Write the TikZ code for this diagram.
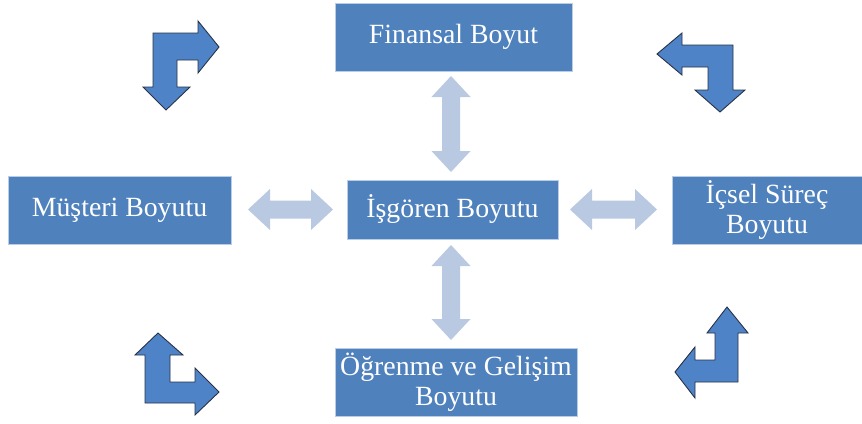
\documentclass[tikz,border=0pt]{standalone}
\usepackage{fontspec}
\setmainfont{Liberation Serif}
\definecolor{boxblue}{RGB}{79,129,189}
\definecolor{boxedge}{RGB}{185,205,232}
\definecolor{lightarr}{RGB}{185,201,226}
\definecolor{bentfill}{RGB}{79,131,200}
\definecolor{bentedge}{RGB}{40,50,70}
\begin{document}
\begin{tikzpicture}[x=1pt,y=-1pt,
  dim/.style={draw=boxedge,line width=0.8pt,fill=boxblue,text=white,
    font=\fontsize{27.8}{30}\selectfont,align=center,inner sep=0pt},
  dbl/.style={fill=lightarr,draw=none},
  bent/.style={fill=bentfill,draw=bentedge,line width=0.9pt,line join=miter}]
\useasboundingbox (0,0) rectangle (862,423);
\fill[white] (0,0) rectangle (862,423);
% boxes
\node[dim,minimum width=237pt,minimum height=68pt] (fin) at (453.5,37) {Finansal Boyut};
\node[dim,minimum width=223pt,minimum height=68pt] (mus) at (119.5,210) {Müşteri Boyutu};
\node[dim,minimum width=211pt,minimum height=59pt] (isg) at (452.5,209.5) {İşgören Boyutu};
\node[dim,minimum width=190pt,minimum height=68pt] (ics) at (767,210) {İçsel Süreç\\Boyutu};
\node[dim,minimum width=242pt,minimum height=68pt] (ogr) at (456,382) {Öğrenme ve Gelişim\\Boyutu};
% light double arrows
\fill[dbl] (248,209.5) -- (270,189) -- (270,200.5) -- (311,200.5) -- (311,189) -- (333,209.5)
  -- (311,230) -- (311,218.5) -- (270,218.5) -- (270,230) -- cycle;
\fill[dbl] (570,209.5) -- (592,189) -- (592,200.5) -- (635,200.5) -- (635,189) -- (657,209.5)
  -- (635,230) -- (635,218.5) -- (592,218.5) -- (592,230) -- cycle;
\fill[dbl] (451,76) -- (470.5,97) -- (460,97) -- (460,151) -- (470.5,151) -- (451,172)
  -- (431.5,151) -- (442,151) -- (442,97) -- (431.5,97) -- cycle;
\fill[dbl] (451,245) -- (470.5,266) -- (460,266) -- (460,319) -- (470.5,319) -- (451,340)
  -- (431.5,319) -- (442,319) -- (442,266) -- (431.5,266) -- cycle;
% bent arrows
\draw[bent] (153,33) -- (198,33) -- (198,21) -- (219,47) -- (198,73) -- (198,60) -- (177,60)
  -- (177,87) -- (190,87) -- (166,110) -- (143,87) -- (153,87) -- cycle;
\draw[bent] (733,45) -- (682,45) -- (682,33) -- (657,54) -- (682,75) -- (682,67) -- (708,67)
  -- (708,90) -- (695,90) -- (720,112) -- (745,90) -- (733,90) -- cycle;
\draw[bent] (145,403) -- (145,355) -- (135,355) -- (158,333) -- (183,355) -- (170,355)
  -- (170,382) -- (195,382) -- (195,368) -- (219,392) -- (195,415) -- (195,403) -- cycle;
\draw[bent] (738,382) -- (738,333) -- (748,333) -- (727,307) -- (707,333) -- (715,333)
  -- (715,360) -- (695,360) -- (695,347) -- (675,372) -- (695,398) -- (695,382) -- cycle;
\end{tikzpicture}
\end{document}
